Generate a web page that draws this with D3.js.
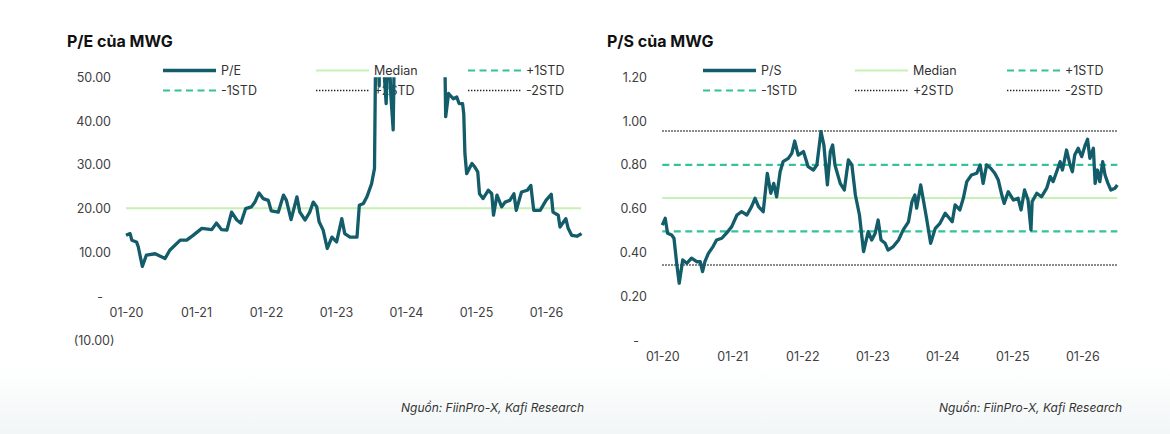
<!DOCTYPE html>
<html lang="vi">
<head>
    <meta charset="UTF-8">
    <title>P/E và P/S của MWG</title>
    <style>
        html, body { margin: 0; padding: 0; background: #fff; }
        svg { display: block; }
    </style>
</head>
<body>
<div id="container"></div>
<script src="https://cdn.jsdelivr.net/npm/d3@7"></script>
<script>
    /* Data: months counted from 01-2020 */

    const peMonth = [0, 0.7, 1.0, 1.8, 2.1, 2.8, 3.5, 5.0, 6.7, 7.5, 9.3, 10.4, 11.5, 13.0, 14.7, 15.5, 16.4, 17.3, 18.1, 19.0,
        19.7, 20.5, 21.5, 22.1, 22.8, 23.5, 24.4, 24.9, 26.1, 27.0, 27.5, 28.3, 29.3, 29.8, 30.7, 31.5, 32.1, 32.7, 33.1, 33.8,
        34.5, 35.3, 36.1, 37.0, 37.5, 38.4, 39.6, 40.0, 40.7, 41.3, 42.1, 42.6, 42.9, 43.4, 43.7, 44.2, 44.6, 45.0, 45.4, 45.8,
        46.1, 47, 49, 51, 53, 54.5, 54.8, 55.3, 56.1, 56.7, 57.1, 57.7, 57.9, 58.1, 58.4, 59.3, 59.8, 60.3, 60.6, 61.2,
        62.1, 62.7, 63.0, 63.6, 64.4, 65.0, 65.8, 66.5, 66.9, 67.8, 68.8, 69.4, 69.9, 71.0, 72.0, 72.9, 73.2, 74.1, 74.4, 75.4,
        75.8, 76.4, 77.3, 78.1]
    const peValue = [13.9, 14.3, 12.8, 12.4, 11.3, 6.8, 9.4, 9.7, 8.6, 10.5, 12.8, 12.8, 13.9, 15.5, 15.2, 16.7, 15.2, 15.1, 19.2, 17.4,
        16.7, 20.0, 20.4, 21.5, 23.6, 22.3, 21.9, 19.5, 19.2, 23.1, 21.9, 17.5, 22.7, 19.2, 17.4, 19.2, 21.5, 20.4, 17.0, 15.1,
        10.9, 13.5, 12.4, 17.7, 14.3, 13.5, 13.5, 20.8, 21.2, 22.7, 25.7, 29.2, 70, 48, 75, 52, 44, 60, 46, 38,
        65, 85, 110, 120, 95, 70, 41, 46.3, 45.1, 45.5, 44, 44, 41.7, 32.6, 28, 30.3, 29.5, 28.4, 23.4, 22.3,
        24.2, 23.4, 18.5, 23.1, 20.4, 21.5, 21.9, 23.4, 19.6, 23.8, 24.2, 25.3, 19.6, 19.6, 21.9, 23.3, 19.2, 18.5, 15.8, 17.7,
        15.5, 13.9, 13.7, 14.3]
    const peMedian = 20.1

    const psMonth = [0, 0.5, 0.9, 1.6, 2.0, 2.5, 2.9, 3.5, 4.2, 5.0, 5.9, 6.5, 6.9, 7.3, 7.9, 8.7, 9.3, 10.2, 11.0, 11.9,
        12.8, 13.6, 14.5, 15.3, 15.9, 16.5, 17.3, 18.0, 18.6, 19.1, 19.6, 20.2, 20.7, 21.6, 22.2, 22.7, 23.3, 24.2, 25.0, 25.9,
        26.5, 27.2, 27.7, 28.3, 28.8, 29.2, 29.6, 30.5, 31.2, 31.9, 32.5, 33.1, 33.8, 34.5, 35.3, 35.9, 36.5, 37.0, 37.5, 38.2,
        38.7, 39.6, 40.5, 41.3, 42.2, 42.8, 43.3, 43.6, 44.3, 44.7, 45.3, 46.0, 46.8, 47.6, 48.5, 49.0, 49.7, 50.2, 51.0, 51.6,
        52.2, 53.0, 53.9, 54.5, 55.0, 55.6, 56.3, 57.0, 57.6, 58.2, 58.6, 59.3, 60.2, 61.0, 61.5, 62.1, 62.7, 63.2, 63.4, 64.2,
        65.0, 65.9, 66.5, 67.0, 67.6, 68.2, 68.6, 69.3, 69.9, 70.3, 70.7, 71.3, 71.9, 72.5, 72.9, 73.3, 73.9, 74.2, 74.6, 75.0,
        75.5, 75.9, 76.4, 76.9, 77.6, 78.0]
    const psValue = [0.526, 0.557, 0.489, 0.481, 0.466, 0.344, 0.261, 0.367, 0.352, 0.375, 0.359, 0.359, 0.314, 0.359, 0.397, 0.428, 0.458, 0.466, 0.489, 0.519,
        0.572, 0.587, 0.572, 0.610, 0.648, 0.610, 0.587, 0.762, 0.671, 0.716, 0.655, 0.769, 0.815, 0.830, 0.853, 0.909, 0.845, 0.861, 0.792, 0.777,
        0.800, 0.952, 0.891, 0.709, 0.861, 0.891, 0.800, 0.716, 0.686, 0.823, 0.800, 0.663, 0.572, 0.405, 0.496, 0.458, 0.489, 0.549, 0.458, 0.443,
        0.412, 0.428, 0.458, 0.504, 0.541, 0.633, 0.663, 0.603, 0.709, 0.648, 0.557, 0.443, 0.511, 0.534, 0.580, 0.564, 0.541, 0.618, 0.595, 0.648,
        0.724, 0.754, 0.762, 0.800, 0.716, 0.800, 0.785, 0.762, 0.731, 0.663, 0.625, 0.678, 0.640, 0.648, 0.595, 0.686, 0.640, 0.504, 0.633, 0.671,
        0.655, 0.694, 0.747, 0.724, 0.769, 0.815, 0.777, 0.868, 0.800, 0.769, 0.845, 0.876, 0.838, 0.891, 0.917, 0.830, 0.876, 0.716, 0.777, 0.724,
        0.815, 0.754, 0.716, 0.686, 0.694, 0.709]
    const psMedian = 0.65
    const psPlus1 = 0.80
    const psMinus1 = 0.497
    const psPlus2 = 0.955
    const psMinus2 = 0.344

    const monthTicks = [0, 12, 24, 36, 48, 60, 72]
    const monthLabels = ['01-20', '01-21', '01-22', '01-23', '01-24', '01-25', '01-26']
    const peTicks = [-10, 0, 10, 20, 30, 40, 50]
    const psTicks = [0, 0.2, 0.4, 0.6, 0.8, 1.0, 1.2]
    const peLegend = ['P/E', 'Median', '+1STD', '-1STD', '+2STD', '-2STD']
    const psLegend = ['P/S', 'Median', '+1STD', '-1STD', '+2STD', '-2STD']
    const source = 'Nguồn: FiinPro-X, Kafi Research'

    /* Styles */

    const width = 1170
    const height = 434
    const font = 'Inter, "Noto Sans", sans-serif'
    const labelColor = '#404040'

    const styles = {
        main: {stroke: '#135c69', width: 3.3, dash: null},
        median: {stroke: '#c6f1b3', width: 2, dash: null},
        std1: {stroke: '#33c29a', width: 2.2, dash: '7,4.5'},
        std2: {stroke: '#222222', width: 1.4, dash: '1.4,1.6'}
    }
    const legendStyles = [styles.main, styles.median, styles.std1, styles.std1, styles.std2, styles.std2]

    const svg = d3.select('#container').append('svg')
        .attr('width', width)
        .attr('height', height)
        .style('font-family', font)

    const grad = svg.append('defs').append('linearGradient')
        .attr('id', 'bg')
        .attr('x1', 0).attr('y1', 0).attr('x2', 0).attr('y2', 1)
    grad.append('stop').attr('offset', 0.84).attr('stop-color', '#ffffff')
    grad.append('stop').attr('offset', 1).attr('stop-color', '#f2f6f6')
    svg.append('rect').attr('width', width).attr('height', height).attr('fill', 'url(#bg)')

    function applyStyle(sel, s) {
        sel.attr('fill', 'none')
            .attr('stroke', s.stroke)
            .attr('stroke-width', s.width)
            .attr('stroke-dasharray', s.dash)
    }

    function drawChart(cfg) {
        const x = d3.scaleLinear().domain([0, 78]).range(cfg.xRange)
        const y = d3.scaleLinear().domain(cfg.yDomain).range(cfg.yRange)
        const g = svg.append('g')

        g.append('text')
            .attr('x', cfg.titleX)
            .attr('y', 47)
            .attr('font-size', '16px')
            .attr('font-weight', 700)
            .attr('fill', '#111')
            .text(cfg.title)

        const yAxis = g.append('g')
            .attr('transform', `translate(${cfg.axisX},0)`)
            .call(d3.axisLeft(y).tickValues(cfg.yTicks).tickSize(0).tickPadding(0).tickFormat(cfg.yFormat))
        yAxis.select('.domain').remove()
        yAxis.selectAll('text')
            .attr('font-family', font)
            .attr('font-size', '12.5px')
            .attr('fill', labelColor)
            .attr('dx', d => d === 0 ? -8 : d < 0 ? 3.5 : 0)

        const xAxis = g.append('g')
            .attr('transform', `translate(0,${y(0)})`)
            .call(d3.axisBottom(x).tickValues(monthTicks).tickSize(0).tickPadding(12).tickFormat((d, i) => monthLabels[i]))
        xAxis.select('.domain').remove()
        xAxis.selectAll('text')
            .attr('font-family', font)
            .attr('font-size', '12.5px')
            .attr('fill', labelColor)

        /* legend: 3 columns, 2 rows */
        const legend = g.append('g')
        cfg.legend.forEach((name, i) => {
            const lx = cfg.legendX[i % 3]
            const ly = 70.5 + Math.floor(i / 3) * 20
            legend.append('line')
                .attr('x1', lx).attr('x2', lx + 53)
                .attr('y1', ly).attr('y2', ly)
                .call(applyStyle, legendStyles[i])
            legend.append('text')
                .attr('x', lx + 58)
                .attr('y', ly)
                .attr('dy', '0.35em')
                .attr('font-size', '12.5px')
                .attr('fill', '#333')
                .text(name)
        })

        const clipId = 'clip-' + cfg.id
        g.append('clipPath').attr('id', clipId)
            .append('rect')
            .attr('x', cfg.xRange[0] - 5)
            .attr('y', y(cfg.yDomain[1]))
            .attr('width', cfg.xRange[1] - cfg.xRange[0] + 10)
            .attr('height', y(cfg.yDomain[0]) - y(cfg.yDomain[1]))

        const plot = g.append('g').attr('clip-path', `url(#${clipId})`)
        const lineGen = d3.line().x(p => x(p[0])).y(p => y(p[1]))

        plot.selectAll('path.ref')
            .data(cfg.refs)
            .enter()
            .append('path')
            .classed('ref', true)
            .attr('d', r => lineGen([[0, r.value], [78, r.value]]))
            .each(function (r) { applyStyle(d3.select(this), r.style) })

        plot.append('path')
            .datum(cfg.months.map((m, i) => [m, cfg.values[i]]))
            .attr('d', lineGen)
            .call(applyStyle, styles.main)
            .attr('stroke-linejoin', 'round')

        g.append('text')
            .attr('x', cfg.sourceX)
            .attr('y', 412)
            .attr('text-anchor', 'end')
            .attr('font-size', '12px')
            .attr('font-style', 'italic')
            .attr('fill', '#333')
            .text(source)
    }

    const accounting = d => d === 0 ? '-' : d < 0 ? `(${d3.format('.2f')(-d)})` : d3.format('.2f')(d)

    drawChart({
        id: 'pe',
        title: 'P/E của MWG',
        titleX: 67,
        axisX: 111,
        xRange: [126, 581],
        yDomain: [-10, 50],
        yRange: [340, 77.3],
        yTicks: peTicks,
        yFormat: accounting,
        legend: peLegend,
        legendX: [163, 316, 468],
        months: peMonth,
        values: peValue,
        refs: [{value: peMedian, style: styles.median}],
        sourceX: 584
    })

    drawChart({
        id: 'ps',
        title: 'P/S của MWG',
        titleX: 607,
        axisX: 647,
        xRange: [662.3, 1117.3],
        yDomain: [0, 1.2],
        yRange: [340.5, 77.2],
        yTicks: psTicks,
        yFormat: accounting,
        legend: psLegend,
        legendX: [703, 855, 1007],
        months: psMonth,
        values: psValue,
        refs: [
            {value: psMedian, style: styles.median},
            {value: psPlus2, style: styles.std2},
            {value: psMinus2, style: styles.std2},
            {value: psPlus1, style: styles.std1},
            {value: psMinus1, style: styles.std1}
        ],
        sourceX: 1122
    })
</script>
</body>
</html>
